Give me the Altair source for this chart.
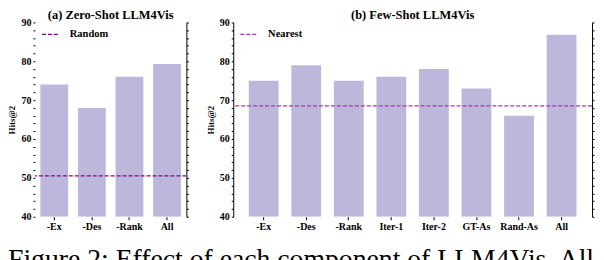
import altair as alt
import pandas as pd

# ---- data ----
zs_cats = ["-Ex", "-Des", "-Rank", "All"]
zs_vals = [74, 68, 76, 79.3]
zs_base_name = "Random"
zs_base_val = 50.5

fs_cats = ["-Ex", "-Des", "-Rank", "Iter-1", "Iter-2", "GT-As", "Rand-As", "All"]
fs_vals = [75, 79, 75, 76, 78, 73, 66, 86.8]
fs_base_name = "Nearest"
fs_base_val = 68.5

y_min, y_max = 40, 90
y_tick_vals = list(range(40, 91, 2))

BAR = "#bcb7db"
SERIF = "Liberation Serif"


def panel(cats, vals, base_name, base_val, line_color, title, width,
          pad_inner, pad_outer, left_domain):
    df = pd.DataFrame({"cat": cats, "val": vals})
    base_df = pd.DataFrame({"name": [base_name], "y": [base_val]})
    yscale = alt.Scale(domain=[y_min, y_max], nice=False, zero=False)

    bars = alt.Chart(df).mark_bar(color=BAR, clip=True).encode(
        x=alt.X("cat:N", sort=cats, title=None,
                scale=alt.Scale(paddingInner=pad_inner, paddingOuter=pad_outer),
                axis=alt.Axis(labelAngle=0, labelFont=SERIF, labelFontSize=10,
                              labelFontWeight="bold", labelColor="black",
                              domain=False, tickSize=3, tickColor="black",
                              labelPadding=2)),
        y=alt.Y("val:Q", scale=yscale, title="Hits@2",
                axis=alt.Axis(values=y_tick_vals,
                              labelExpr="datum.value % 10 == 0 ? datum.label : ''",
                              labelFont=SERIF, labelFontSize=10,
                              labelFontWeight="bold", labelColor="black",
                              titleFont=SERIF, titleFontSize=9,
                              titleFontWeight="bold", titleColor="black",
                              titlePadding=4, tickSize=2, tickColor="black",
                              domain=left_domain, domainColor="black",
                              labelPadding=2, grid=False)),
        y2=alt.datum(y_min),
    )

    line = alt.Chart(base_df).mark_rule(strokeDash=[4, 2], strokeWidth=1.2).encode(
        y=alt.Y("y:Q", scale=yscale,
                axis=alt.Axis(orient="right", values=y_tick_vals, labels=False,
                              title=None, tickSize=2, tickColor="black",
                              domain=True, domainColor="black", grid=False)),
        color=alt.Color("name:N", scale=alt.Scale(range=[line_color]),
                        legend=alt.Legend(title=None, orient="none",
                                          legendX=4, legendY=0,
                                          symbolType="stroke",
                                          symbolDash=[4, 2],
                                          symbolStrokeWidth=1.2,
                                          symbolSize=320,
                                          labelOffset=9,
                                          labelFont=SERIF, labelFontSize=10.5,
                                          labelFontWeight="bold",
                                          labelColor="black",
                                          padding=2)),
    )

    return alt.layer(bars, line).resolve_axis(y="independent").properties(
        width=width, height=195,
        title=alt.TitleParams(title, font=SERIF, fontSize=12.5,
                              fontWeight="bold", color="black", offset=-4),
    )


left = panel(zs_cats, zs_vals, zs_base_name, zs_base_val, "#8b008b",
             "(a) Zero-Shot LLM4Vis", 152, 0.26, 0.145, False)
right = panel(fs_cats, fs_vals, fs_base_name, fs_base_val, "#a23ca8",
              "(b) Few-Shot LLM4Vis", 360, 0.30, 0.365, True)

chart = alt.hconcat(left, right, spacing=17).resolve_scale(
    color="independent", x="independent"
).properties(
    padding=0,
    title=alt.TitleParams("Figure 2: Effect of each component of LLM4Vis. All",
                          orient="bottom", anchor="start", font=SERIF,
                          fontSize=27.8, fontWeight="normal", color="black",
                          offset=14),
).configure_view(stroke=None)

chart.save("out.html", embed_options={"renderer": "svg", "actions": False})
